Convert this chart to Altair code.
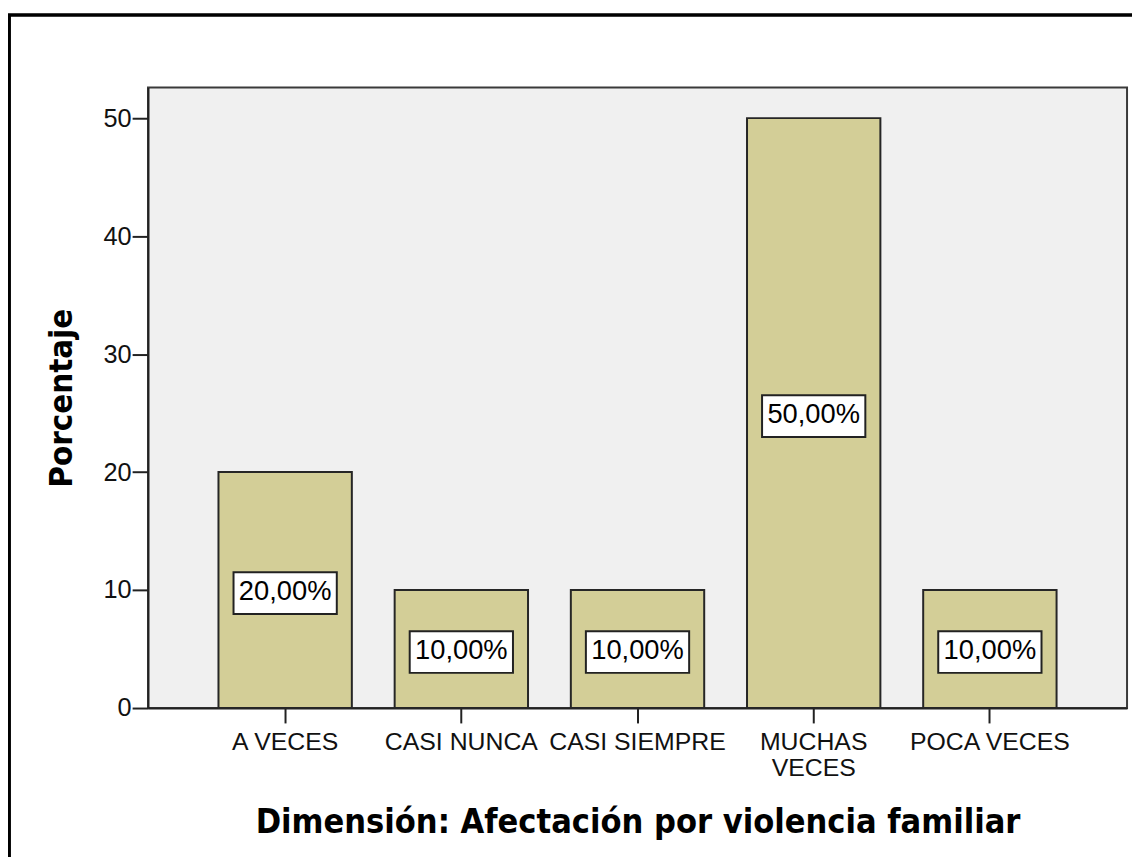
import altair as alt
import pandas as pd

categories = ["A VECES", "CASI NUNCA", "CASI SIEMPRE", "MUCHAS VECES", "POCA VECES"]
percentages = [20, 10, 10, 50, 10]
y_ticks = [0, 10, 20, 30, 40, 50]

df = pd.DataFrame({"cat": categories, "pct": percentages})

TITLE_FONT = "DejaVu Sans Condensed, Liberation Sans"
LABEL_FONT = "Liberation Sans"

x_axis = alt.Axis(
    title="Dimensión: Afectación por violencia familiar",
    titleFont=TITLE_FONT, titleFontSize=34.3, titleFontWeight="bold", titleColor="black",
    titleBaseline="alphabetic", titleY=125,
    labelFont=LABEL_FONT, labelFontSize=25, labelColor="#111", labelAngle=0,
    labelPadding=7, labelLineHeight=26, labelOverlap=False, labelLimit=400,
    labelExpr="datum.value == 'MUCHAS VECES' ? ['MUCHAS', 'VECES'] : datum.value",
    tickSize=15, tickWidth=2, tickColor="#222",
    domainColor="#222", domainWidth=2,
)
y_axis = alt.Axis(
    title="Porcentaje", values=y_ticks, grid=False,
    titleFont=TITLE_FONT, titleFontSize=33, titleFontWeight="bold", titleColor="black",
    titleAngle=270, titleBaseline="alphabetic", titleX=-77,
    labelFont=LABEL_FONT, labelFontSize=25.5, labelColor="#111", labelPadding=1,
    tickSize=16, tickWidth=2, tickColor="#222",
    domainColor="#222", domainWidth=2,
)

x_scale = alt.Scale(paddingInner=0.243, paddingOuter=0.4)
y_scale = alt.Scale(domain=[0, 52.6], nice=False, zero=True)

base = alt.Chart(df).transform_calculate(
    mid="datum.pct / 2",
    lab="replace(format(datum.pct, '.2f'), '.', ',') + '%'",
)

bars = base.mark_bar(fill="#d3ce97", stroke="#262626", strokeWidth=2).encode(
    x=alt.X("cat:N", sort=categories, scale=x_scale, axis=x_axis),
    y=alt.Y("pct:Q", scale=y_scale, axis=y_axis),
)

box_path = "M-1,-0.4038L1,-0.4038L1,0.4038L-1,0.4038Z"
boxes = base.mark_point(
    shape=box_path, size=104 * 104, filled=True, fill="white", fillOpacity=1,
    stroke="#222", strokeWidth=2, strokeOpacity=1, opacity=1, yOffset=3,
).encode(
    x=alt.X("cat:N", sort=categories, scale=x_scale, axis=x_axis),
    y=alt.Y("mid:Q", scale=y_scale, axis=y_axis),
)

texts = base.mark_text(
    font=LABEL_FONT, fontSize=27.5, color="black", align="center", baseline="middle",
    yOffset=2,
).encode(
    x=alt.X("cat:N", sort=categories, scale=x_scale, axis=x_axis),
    y=alt.Y("mid:Q", scale=y_scale, axis=y_axis),
    text="lab:N",
)

frame = base.mark_rect(
    filled=False, fillOpacity=0, stroke="black", strokeWidth=2.5, clip=False,
).encode(
    x=alt.value(-139.8), x2=alt.value(3000),
    y=alt.value(-73), y2=alt.value(3000),
)

chart = alt.layer(bars, boxes, texts, frame).properties(
    width=986, height=625,
    background="white",
    autosize=alt.AutoSizeParams(type="none"),
    padding={"left": 141, "top": 77, "right": 5, "bottom": 147},
).configure_view(
    fill="#f0f0f0", stroke="#3a3a3a", strokeWidth=2,
)

chart.save("out.html", embed_options={"renderer": "svg", "actions": False})
